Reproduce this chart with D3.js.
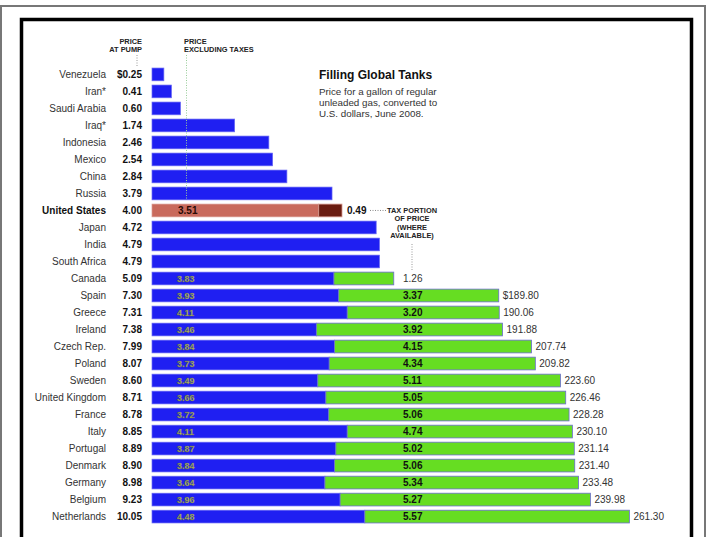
<!DOCTYPE html>
<html>
<head>
<meta charset="utf-8">
<script src="https://cdn.jsdelivr.net/npm/d3@7"></script>
<style>
  body { margin: 0; background: #fff; }
  svg { display: block; font-family: "Liberation Sans", Arial, sans-serif; }
  .country { font-size: 10px; fill: #333; }
  .pump { font-size: 10px; font-weight: bold; fill: #111; }
  .head { font-size: 7.4px; font-weight: bold; fill: #222; }
  .exlabel { font-size: 9px; font-weight: bold; fill: #c4cc6a; stroke: #555; stroke-width: 0.35px; }
  .taxlabel { font-size: 10px; font-weight: bold; fill: #111; }
  .endlabel { font-size: 10px; fill: #333; }
</style>
</head>
<body>
<div id="chart"></div>
<script>
const countries = ["Venezuela", "Iran*", "Saudi Arabia", "Iraq*", "Indonesia", "Mexico", "China", "Russia",
  "United States", "Japan", "India", "South Africa", "Canada", "Spain", "Greece", "Ireland", "Czech Rep.",
  "Poland", "Sweden", "United Kingdom", "France", "Italy", "Portugal", "Denmark", "Germany", "Belgium", "Netherlands"];
const pumpPrice = [0.25, 0.41, 0.60, 1.74, 2.46, 2.54, 2.84, 3.79, 4.00, 4.72, 4.79, 4.79, 5.09, 7.30, 7.31,
  7.38, 7.99, 8.07, 8.60, 8.71, 8.78, 8.85, 8.89, 8.90, 8.98, 9.23, 10.05];
// price excluding taxes (null where not available)
const exTax = [null, null, null, null, null, null, null, null, 3.51, null, null, null, 3.83, 3.93, 4.11,
  3.46, 3.84, 3.73, 3.49, 3.66, 3.72, 4.11, 3.87, 3.84, 3.64, 3.96, 4.48];
const taxPart = [null, null, null, null, null, null, null, null, 0.49, null, null, null, 1.26, 3.37, 3.20,
  3.92, 4.15, 4.34, 5.11, 5.05, 5.06, 4.74, 5.02, 5.06, 5.34, 5.27, 5.57];
const endLabels = [null, null, null, null, null, null, null, null, null, null, null, null, null, "$189.80",
  "190.06", "191.88", "207.74", "209.82", "223.60", "226.46", "228.28", "230.10", "231.14", "231.40",
  "233.48", "239.98", "261.30"];
const subtitle = ["Price for a gallon of regular", "unleaded gas, converted to", "U.S. dollars, June 2008."];

const W = 706, H = 537;
const rows = countries.map((c, i) => ({
  country: c, pump: pumpPrice[i], ex: exTax[i], tax: taxPart[i], end: endLabels[i]
}));

const svg = d3.select("#chart").append("svg")
  .attr("width", W).attr("height", H);

// frames
svg.append("path").attr("d", `M1,${H} V6 H705 V${H}`)
  .attr("fill", "none").attr("stroke", "#777").attr("stroke-width", 2);
svg.append("path").attr("d", `M21.5,${H} V19.5 H691.5 V${H}`)
  .attr("fill", "none").attr("stroke", "#000").attr("stroke-width", 3.5);

const x = d3.scaleLinear().domain([0, 10]).range([152, 627]);
const y = d3.scaleBand().domain(countries).range([66, 525]).paddingInner(0.25).paddingOuter(0.12);

const g = svg.append("g");

// column headers
svg.append("text").attr("class", "head").attr("x", 142).attr("y", 44).attr("text-anchor", "end").text("PRICE");
svg.append("text").attr("class", "head").attr("x", 142).attr("y", 52).attr("text-anchor", "end").text("AT PUMP");
svg.append("line").attr("x1", 137).attr("x2", 137).attr("y1", 55).attr("y2", 66)
  .attr("stroke", "#999").attr("stroke-dasharray", "1,1.5");
svg.append("text").attr("class", "head").attr("x", 184).attr("y", 44).style("font-weight", "600").text("PRICE");
svg.append("text").attr("class", "head").attr("x", 184).attr("y", 52).style("font-weight", "600").text("EXCLUDING TAXES");

// title block
svg.append("text").attr("x", 319).attr("y", 79).style("font-size", "12px").style("font-weight", "bold")
  .attr("fill", "#111").text("Filling Global Tanks");
svg.selectAll(".sub").data(subtitle).enter().append("text")
  .attr("x", 319).attr("y", (d, i) => 95 + i * 11)
  .style("font-size", "9.8px").attr("fill", "#333").text(d => d);

const bh = y.bandwidth();
const cy = d => y(d.country) + bh / 2;

// country names and pump price
g.selectAll(".country").data(rows).enter().append("text")
  .attr("class", "country").attr("x", 106).attr("y", d => cy(d) + 3.5).attr("text-anchor", "end")
  .style("font-weight", d => d.country === "United States" ? "bold" : null)
  .style("fill", d => d.country === "United States" ? "#111" : null)
  .text(d => d.country);
g.selectAll(".pump").data(rows).enter().append("text")
  .attr("class", "pump").attr("x", 142).attr("y", d => cy(d) + 3.5).attr("text-anchor", "end")
  .text((d, i) => (i === 0 ? "$" : "") + d3.format(".2f")(d.pump));

const isUS = d => d.country === "United States";

// base bars
g.selectAll(".base").data(rows).enter().append("rect")
  .attr("x", x(0)).attr("y", d => y(d.country)).attr("height", bh)
  .attr("width", d => x(d.ex != null ? d.ex : d.pump) - x(0))
  .attr("fill", d => isUS(d) ? "#c96a5c" : "#1f1ff2")
  .attr("stroke", d => isUS(d) ? "#d89a90" : "#6a6af5").attr("stroke-width", 0.7);

// tax bars
const taxRows = rows.filter(d => d.tax != null);
g.selectAll(".tax").data(taxRows).enter().append("rect")
  .attr("x", d => x(d.ex)).attr("y", d => y(d.country)).attr("height", bh)
  .attr("width", d => x(d.ex + d.tax) - x(d.ex))
  .attr("fill", d => isUS(d) ? "#6b1c10" : "#66dd22")
  .attr("stroke", d => isUS(d) ? "#d89a90" : "#6b6bd0").attr("stroke-width", 0.8);

// guide under "price excluding taxes"
svg.append("line").attr("x1", 186.5).attr("x2", 186.5).attr("y1", 55).attr("y2", y("Russia") + bh)
  .attr("stroke", "#9c9").attr("stroke-width", 1).attr("stroke-dasharray", "1,1.5");

// price excluding taxes labels
g.selectAll(".exlabel").data(taxRows.filter(d => !isUS(d))).enter().append("text")
  .attr("class", "exlabel").attr("x", 177).attr("y", d => cy(d) + 3.2)
  .text(d => d3.format(".2f")(d.ex));
g.append("text").attr("class", "taxlabel").attr("x", 178).attr("y", cy(rows[8]) + 3.5)
  .style("fill", "#2a0a05").text("3.51");

// tax labels
g.selectAll(".taxlabel2").data(taxRows.filter(d => !isUS(d))).enter().append("text")
  .attr("class", "taxlabel").attr("x", 403).attr("y", d => cy(d) + 3.5)
  .style("font-weight", d => d.country === "Canada" ? "normal" : null)
  .style("fill", d => d.country === "Canada" ? "#333" : null)
  .text(d => d3.format(".2f")(d.tax));
g.append("text").attr("class", "taxlabel").attr("x", x(4.00) + 5).attr("y", cy(rows[8]) + 3.5).text("0.49");

// annotation
svg.append("line").attr("x1", 370).attr("x2", 386).attr("y1", cy(rows[8])).attr("y2", cy(rows[8]))
  .attr("stroke", "#888").attr("stroke-dasharray", "1,1.5");
["TAX PORTION", "OF PRICE", "(WHERE", "AVAILABLE)"].forEach((t, i) => {
  svg.append("text").attr("class", "head").attr("x", 412).attr("y", cy(rows[8]) + 2.5 + i * 8.5)
    .attr("text-anchor", "middle").text(t);
});
svg.append("line").attr("x1", 412).attr("x2", 412).attr("y1", 244).attr("y2", 270)
  .attr("stroke", "#999").attr("stroke-dasharray", "1,1.5");

// right-end labels
g.selectAll(".endlabel").data(rows.filter(d => d.end)).enter().append("text")
  .attr("class", "endlabel").attr("x", d => x(d.ex + d.tax) + 4).attr("y", d => cy(d) + 3.5)
  .text(d => d.end);
</script>
</body>
</html>
